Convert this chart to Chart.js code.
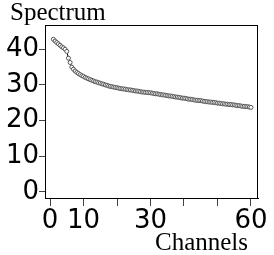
<!DOCTYPE html>
<html>
<head>
<meta charset="utf-8">
<script src="https://cdn.jsdelivr.net/npm/chart.js@4"></script>
<style>
  html, body { margin: 0; padding: 0; background: #fff; }
  #wrap { width: 274px; height: 255px; }
</style>
</head>
<body>
<div id="wrap"><canvas id="spectrumChart" width="274" height="255"></canvas></div>
<script>
// channel numbers and spectrum values (two samples per channel)
const channels = [1, 1.5, 2, 2.5, 3, 3.5, 4, 4.5, 5, 5.5, 6, 6.5, 7, 7.5, 8, 8.5, 9, 9.5, 10, 10.5,
    11, 11.5, 12, 12.5, 13, 13.5, 14, 14.5, 15, 15.5, 16, 16.5, 17, 17.5, 18, 18.5, 19, 19.5, 20, 20.5,
    21, 21.5, 22, 22.5, 23, 23.5, 24, 24.5, 25, 25.5, 26, 26.5, 27, 27.5, 28, 28.5, 29, 29.5, 30, 30.5,
    31, 31.5, 32, 32.5, 33, 33.5, 34, 34.5, 35, 35.5, 36, 36.5, 37, 37.5, 38, 38.5, 39, 39.5, 40, 40.5,
    41, 41.5, 42, 42.5, 43, 43.5, 44, 44.5, 45, 45.5, 46, 46.5, 47, 47.5, 48, 48.5, 49, 49.5, 50, 50.5,
    51, 51.5, 52, 52.5, 53, 53.5, 54, 54.5, 55, 55.5, 56, 56.5, 57, 57.5, 58, 58.5, 59, 59.5, 60];
const spectrum = [42.8, 42.3, 41.9, 41.5, 41.1, 40.7, 40.4, 40.0, 39.4, 37.5, 36.3, 35.0, 34.4, 33.9, 33.5, 33.2, 32.9, 32.6, 32.4, 32.1,
    31.9, 31.7, 31.5, 31.3, 31.1, 30.9, 30.8, 30.6, 30.5, 30.3, 30.2, 30.0, 29.9, 29.7, 29.6, 29.5, 29.4, 29.3, 29.2, 29.1,
    29.0, 28.9, 28.9, 28.8, 28.7, 28.6, 28.6, 28.5, 28.4, 28.3, 28.3, 28.2, 28.1, 28.0, 28.0, 27.9, 27.9, 27.8, 27.8, 27.7,
    27.6, 27.5, 27.5, 27.4, 27.3, 27.2, 27.2, 27.1, 27.0, 26.9, 26.9, 26.8, 26.7, 26.6, 26.6, 26.5, 26.4, 26.3, 26.3, 26.2,
    26.1, 26.0, 26.0, 25.9, 25.8, 25.7, 25.7, 25.6, 25.6, 25.5, 25.4, 25.3, 25.3, 25.2, 25.2, 25.1, 25.1, 25.0, 24.9, 24.9,
    24.8, 24.7, 24.7, 24.6, 24.6, 24.5, 24.5, 24.4, 24.4, 24.3, 24.2, 24.2, 24.1, 24.0, 24.0, 23.9, 23.9, 23.8, 23.7];
const xTicks = [0, 10, 20, 30, 40, 50, 60];
const xTickLabels = [0, 10, 30, 60];
const yTickLabels = [0, 10, 20, 30, 40];

const points = channels.map((c, i) => ({ x: c, y: spectrum[i] }));

// frame round the plot area plus the two serif captions
const framePlugin = {
    id: 'frame',
    afterDraw(chart) {
        const { ctx, chartArea } = chart;
        ctx.save();
        ctx.strokeStyle = '#000';
        ctx.lineWidth = 1;
        ctx.strokeRect(chartArea.left + 0.5, chartArea.top + 0.5,
            chartArea.right - chartArea.left - 1, chartArea.bottom - chartArea.top);
        ctx.fillStyle = '#000';
        ctx.font = '25px "Liberation Serif"';
        ctx.textBaseline = 'alphabetic';
        ctx.textAlign = 'left';
        ctx.fillText('Spectrum', 10, 20);
        ctx.textAlign = 'right';
        ctx.fillText('Channels', chartArea.right - 10, 250);
        ctx.restore();
    }
};

const ctx = document.getElementById('spectrumChart').getContext('2d');

const chart = new Chart(ctx, {
    type: 'line',
    data: {
        datasets: [{
            label: 'Spectrum',
            data: points,
            borderColor: '#000',
            borderWidth: 1,
            pointRadius: 2,
            pointBorderWidth: 1,
            pointBorderColor: '#555',
            pointBackgroundColor: '#fff',
            tension: 0
        }]
    },
    options: {
        responsive: false,
        animation: false,
        events: [],
        layout: { padding: { top: 25, right: 16, left: 0, bottom: 0 } },
        plugins: {
            legend: { display: false },
            title: { display: false },
            tooltip: { enabled: false }
        },
        scales: {
            x: {
                type: 'linear',
                min: -1.5,
                max: 62.1,
                afterFit(scale) { scale.height = 57; },
                afterBuildTicks(scale) {
                    scale.ticks = xTicks.map(v => ({ value: v }));
                },
                border: { display: true, color: '#000', width: 1 },
                grid: {
                    drawOnChartArea: false,
                    drawTicks: true,
                    tickLength: 8,
                    color: '#444'
                },
                ticks: {
                    color: '#000',
                    padding: 0,
                    maxRotation: 0,
                    autoSkip: false,
                    font: { family: '"DejaVu Sans"', size: 26 },
                    callback: v => xTickLabels.includes(v) ? String(v) : ''
                }
            },
            y: {
                min: -1.7,
                max: 46.8,
                afterFit(scale) { scale.width = 45; },
                afterBuildTicks(scale) {
                    scale.ticks = yTickLabels.map(v => ({ value: v }));
                },
                border: { display: true, color: '#000', width: 1 },
                grid: {
                    drawOnChartArea: false,
                    drawTicks: true,
                    tickLength: 6,
                    color: '#444'
                },
                ticks: {
                    color: '#000',
                    padding: 0,
                    autoSkip: false,
                    font: { family: '"DejaVu Sans"', size: 26 }
                }
            }
        }
    },
    plugins: [framePlugin]
});
</script>
</body>
</html>
